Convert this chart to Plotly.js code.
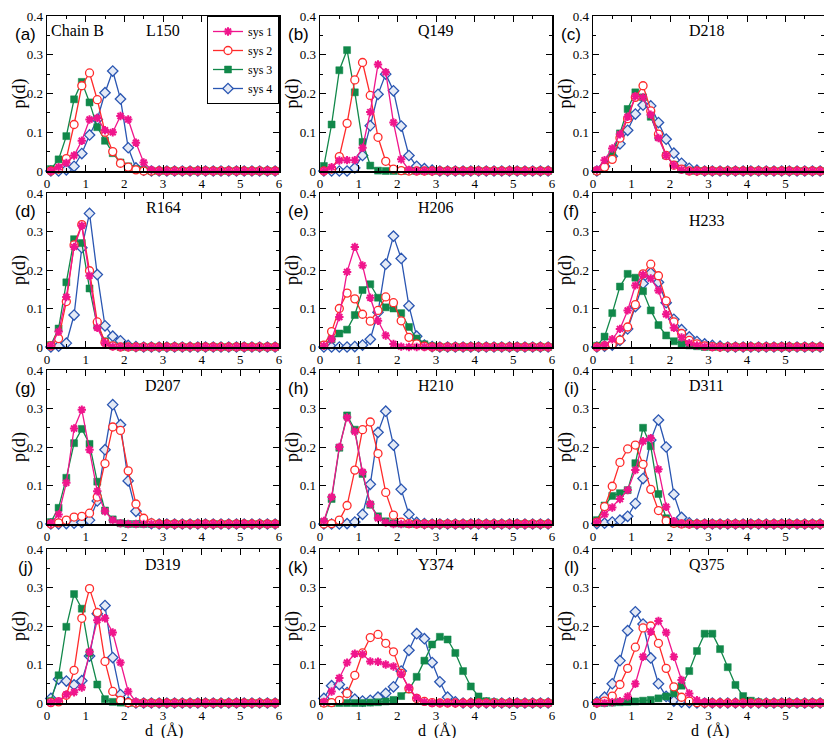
<!DOCTYPE html>
<html><head><meta charset="utf-8">
<script src="https://cdn.plot.ly/plotly-3.0.1.min.js"></script>
<style>html,body{margin:0;padding:0;background:#fff}#chart{width:824px;height:738px}</style>
</head><body><div id="chart"></div><script>
// distance bins (Å)
const dist = [0.1,0.3,0.5,0.7,0.9,1.1,1.3,1.5,1.7,1.9,2.1,2.3,2.5,2.7,2.9,3.1,3.3,3.5,3.7,3.9,4.1,4.3,4.5,4.7,4.9,5.1,5.3,5.5,5.7,5.9];

const seriesNames = ['sys 1','sys 2','sys 3','sys 4'];
const panelLabels = ['(a)','(b)','(c)','(d)','(e)','(f)','(g)','(h)','(i)','(j)','(k)','(l)'];
const residues = ['L150','Q149','D218','R164','H206','H233','D207','H210','D311','D319','Y374','Q375'];
const xTitle = 'd  (Å)';
const yTitle = 'p(d)';

// (a) L150
const L150_sys1 = [0,0.01,0.021,0.04,0.078,0.133,0.137,0.105,0.1,0.142,0.133,0.073,0.022,0.003,0,0,0,0,0,0,0,0,0,0,0,0,0,0,0,0];
const L150_sys2 = [0,0.005,0.032,0.12,0.22,0.253,0.184,0.1,0.05,0.02,0.01,0.003,0,0,0,0,0,0,0,0,0,0,0,0,0,0,0,0,0,0];
const L150_sys3 = [0.005,0.03,0.09,0.185,0.23,0.177,0.113,0.078,0.046,0.022,0.012,0.005,0.002,0,0,0,0,0,0,0,0,0,0,0,0,0,0,0,0,0];
const L150_sys4 = [0,0,0.003,0.012,0.045,0.093,0.133,0.202,0.258,0.186,0.06,0.008,0.002,0,0,0,0,0,0,0,0,0,0,0,0,0,0,0,0,0];
// (b) Q149
const Q149_sys1 = [0,0.01,0.027,0.028,0.028,0.06,0.152,0.275,0.255,0.125,0.03,0.003,0,0,0,0,0,0,0,0,0,0,0,0,0,0,0,0,0,0];
const Q149_sys2 = [0,0.005,0.037,0.123,0.235,0.28,0.195,0.087,0.025,0.005,0.001,0,0,0,0,0,0,0,0,0,0,0,0,0,0,0,0,0,0,0];
const Q149_sys3 = [0.013,0.12,0.26,0.312,0.203,0.075,0.014,0.001,0,0,0,0,0,0,0,0,0,0,0,0,0,0,0,0,0,0,0,0,0,0];
const Q149_sys4 = [0,0,0,0,0.008,0.04,0.117,0.198,0.25,0.207,0.116,0.04,0.012,0.006,0.002,0,0,0,0,0,0,0,0,0,0,0,0,0,0,0];
// (c) D218
const D218_sys1 = [0.003,0.028,0.058,0.095,0.14,0.193,0.19,0.145,0.085,0.04,0.015,0.003,0,0,0,0,0,0,0,0,0,0,0,0,0,0,0,0,0,0];
const D218_sys2 = [0,0.01,0.03,0.085,0.135,0.19,0.22,0.155,0.095,0.04,0.015,0.005,0,0,0,0,0,0,0,0,0,0,0,0,0,0,0,0,0,0];
const D218_sys3 = [0,0.012,0.042,0.097,0.16,0.203,0.19,0.14,0.088,0.04,0.016,0.004,0,0,0,0,0,0,0,0,0,0,0,0,0,0,0,0,0,0];
const D218_sys4 = [0,0.012,0.038,0.07,0.105,0.147,0.17,0.168,0.125,0.082,0.046,0.02,0.007,0.002,0,0,0,0,0,0,0,0,0,0,0,0,0,0,0,0];
// (d) R164
const R164_sys1 = [0.003,0.04,0.13,0.26,0.315,0.185,0.05,0.01,0.001,0,0,0,0,0,0,0,0,0,0,0,0,0,0,0,0,0,0,0,0,0];
const R164_sys2 = [0.003,0.022,0.118,0.265,0.318,0.198,0.065,0.012,0.003,0,0,0,0,0,0,0,0,0,0,0,0,0,0,0,0,0,0,0,0,0];
const R164_sys3 = [0.005,0.048,0.168,0.28,0.27,0.152,0.055,0.015,0.004,0,0,0,0,0,0,0,0,0,0,0,0,0,0,0,0,0,0,0,0,0];
const R164_sys4 = [0,0.002,0.01,0.083,0.258,0.347,0.188,0.055,0.028,0.016,0.004,0.001,0,0,0,0,0,0,0,0,0,0,0,0,0,0,0,0,0,0];
// (e) H206
const H206_sys1 = [0.003,0.02,0.078,0.195,0.26,0.212,0.128,0.068,0.03,0.008,0.001,0,0,0,0,0,0,0,0,0,0,0,0,0,0,0,0,0,0,0];
const H206_sys2 = [0.005,0.04,0.1,0.14,0.125,0.085,0.067,0.095,0.13,0.115,0.068,0.025,0.008,0.002,0,0,0,0,0,0,0,0,0,0,0,0,0,0,0,0];
const H206_sys3 = [0.005,0.02,0.035,0.045,0.083,0.148,0.163,0.128,0.103,0.1,0.088,0.052,0.022,0.007,0.002,0,0,0,0,0,0,0,0,0,0,0,0,0,0,0];
const H206_sys4 = [0,0,0,0,0.001,0.005,0.02,0.09,0.215,0.288,0.23,0.107,0.028,0.005,0.001,0,0,0,0,0,0,0,0,0,0,0,0,0,0,0];
// (f) H233
const H233_sys1 = [0,0.005,0.02,0.047,0.095,0.16,0.188,0.178,0.147,0.085,0.05,0.025,0.01,0.004,0.001,0,0,0,0,0,0,0,0,0,0,0,0,0,0,0];
const H233_sys2 = [0,0.003,0.007,0.018,0.052,0.11,0.19,0.215,0.185,0.12,0.065,0.035,0.017,0.008,0.003,0.001,0,0,0,0,0,0,0,0,0,0,0,0,0,0];
const H233_sys3 = [0.003,0.027,0.088,0.157,0.19,0.18,0.145,0.095,0.057,0.03,0.015,0.008,0.004,0.002,0,0,0,0,0,0,0,0,0,0,0,0,0,0,0,0];
const H233_sys4 = [0,0.002,0.005,0.017,0.047,0.105,0.165,0.192,0.168,0.115,0.072,0.045,0.026,0.014,0.008,0.004,0.002,0,0,0,0,0,0,0,0,0,0,0,0,0];
// (g) D207
const D207_sys1 = [0.002,0.025,0.107,0.248,0.297,0.193,0.085,0.033,0.01,0.002,0,0,0,0,0,0,0,0,0,0,0,0,0,0,0,0,0,0,0,0];
const D207_sys2 = [0,0.003,0.01,0.018,0.02,0.028,0.07,0.157,0.252,0.243,0.138,0.052,0.015,0.003,0,0,0,0,0,0,0,0,0,0,0,0,0,0,0,0];
const D207_sys3 = [0.005,0.042,0.12,0.21,0.247,0.208,0.11,0.035,0.012,0.002,0,0,0,0,0,0,0,0,0,0,0,0,0,0,0,0,0,0,0,0];
const D207_sys4 = [0,0,0.001,0.002,0.004,0.01,0.06,0.193,0.31,0.258,0.112,0.033,0.008,0.001,0,0,0,0,0,0,0,0,0,0,0,0,0,0,0,0];
// (h) H210
const H210_sys1 = [0.008,0.07,0.2,0.277,0.24,0.135,0.052,0.015,0.004,0,0,0,0,0,0,0,0,0,0,0,0,0,0,0,0,0,0,0,0,0];
const H210_sys2 = [0,0.001,0.01,0.048,0.14,0.245,0.265,0.183,0.082,0.023,0.005,0.001,0,0,0,0,0,0,0,0,0,0,0,0,0,0,0,0,0,0];
const H210_sys3 = [0.005,0.065,0.198,0.282,0.245,0.13,0.05,0.02,0.007,0.002,0.001,0,0,0,0,0,0,0,0,0,0,0,0,0,0,0,0,0,0,0];
const H210_sys4 = [0,0,0,0.001,0.005,0.025,0.103,0.238,0.293,0.205,0.09,0.025,0.004,0.001,0,0,0,0,0,0,0,0,0,0,0,0,0,0,0,0];
// (i) D311
const D311_sys1 = [0.005,0.025,0.043,0.065,0.088,0.14,0.215,0.223,0.142,0.045,0.007,0.001,0,0,0,0,0,0,0,0,0,0,0,0,0,0,0,0,0,0];
const D311_sys2 = [0.005,0.045,0.098,0.16,0.195,0.205,0.155,0.09,0.035,0.008,0.002,0,0,0,0,0,0,0,0,0,0,0,0,0,0,0,0,0,0,0];
const D311_sys3 = [0.01,0.048,0.073,0.08,0.088,0.158,0.25,0.202,0.078,0.015,0.002,0,0,0,0,0,0,0,0,0,0,0,0,0,0,0,0,0,0,0];
const D311_sys4 = [0.001,0.002,0.005,0.01,0.02,0.053,0.118,0.218,0.27,0.2,0.077,0.017,0.003,0,0,0,0,0,0,0,0,0,0,0,0,0,0,0,0,0];
// (j) D319
const D319_sys1 = [0.001,0.005,0.022,0.028,0.04,0.133,0.215,0.22,0.183,0.105,0.03,0.003,0,0,0,0,0,0,0,0,0,0,0,0,0,0,0,0,0,0];
const D319_sys2 = [0.001,0.003,0.02,0.085,0.22,0.297,0.235,0.108,0.03,0.007,0.001,0,0,0,0,0,0,0,0,0,0,0,0,0,0,0,0,0,0,0];
const D319_sys3 = [0.005,0.072,0.198,0.283,0.245,0.13,0.048,0.01,0.003,0.001,0,0,0,0,0,0,0,0,0,0,0,0,0,0,0,0,0,0,0,0];
const D319_sys4 = [0.012,0.062,0.057,0.047,0.058,0.122,0.232,0.253,0.118,0.022,0.002,0,0,0,0,0,0,0,0,0,0,0,0,0,0,0,0,0,0,0];
// (k) Y374
const Y374_sys1 = [0.003,0.03,0.065,0.105,0.128,0.127,0.108,0.107,0.1,0.095,0.075,0.04,0.013,0.003,0,0,0,0,0,0,0,0,0,0,0,0,0,0,0,0];
const Y374_sys2 = [0,0.001,0.007,0.025,0.072,0.13,0.17,0.178,0.155,0.133,0.077,0.037,0.012,0.004,0.001,0,0,0,0,0,0,0,0,0,0,0,0,0,0,0];
const Y374_sys3 = [0,0,0,0,0,0,0.001,0.002,0.004,0.008,0.018,0.035,0.068,0.11,0.152,0.172,0.165,0.13,0.083,0.043,0.017,0.005,0.002,0,0,0,0,0,0,0];
const Y374_sys4 = [0.012,0.045,0.048,0.027,0.01,0.005,0.007,0.015,0.025,0.042,0.083,0.137,0.18,0.167,0.105,0.055,0.015,0.003,0,0,0,0,0,0,0,0,0,0,0,0];
// (l) Q375
const Q375_sys1 = [0,0,0.002,0.005,0.017,0.05,0.12,0.185,0.213,0.183,0.12,0.06,0.025,0.007,0.002,0,0,0,0,0,0,0,0,0,0,0,0,0,0,0];
const Q375_sys2 = [0,0.005,0.018,0.048,0.09,0.145,0.195,0.2,0.155,0.09,0.042,0.015,0.005,0.001,0,0,0,0,0,0,0,0,0,0,0,0,0,0,0,0];
const Q375_sys3 = [0,0,0.001,0.002,0.003,0.004,0.006,0.008,0.012,0.017,0.025,0.045,0.083,0.135,0.18,0.18,0.14,0.093,0.047,0.018,0.006,0.002,0,0,0,0,0,0,0,0];
const Q375_sys4 = [0.002,0.015,0.05,0.11,0.188,0.237,0.205,0.117,0.05,0.017,0.005,0.002,0.001,0,0,0,0,0,0,0,0,0,0,0,0,0,0,0,0,0];

const panelData = [
  [L150_sys1,L150_sys2,L150_sys3,L150_sys4],
  [Q149_sys1,Q149_sys2,Q149_sys3,Q149_sys4],
  [D218_sys1,D218_sys2,D218_sys3,D218_sys4],
  [R164_sys1,R164_sys2,R164_sys3,R164_sys4],
  [H206_sys1,H206_sys2,H206_sys3,H206_sys4],
  [H233_sys1,H233_sys2,H233_sys3,H233_sys4],
  [D207_sys1,D207_sys2,D207_sys3,D207_sys4],
  [H210_sys1,H210_sys2,H210_sys3,H210_sys4],
  [D311_sys1,D311_sys2,D311_sys3,D311_sys4],
  [D319_sys1,D319_sys2,D319_sys3,D319_sys4],
  [Y374_sys1,Y374_sys2,Y374_sys3,Y374_sys4],
  [Q375_sys1,Q375_sys2,Q375_sys3,Q375_sys4]
];

// styles
const styles = [
  {color:'#f0158c', symbol:'asterisk-open', size:7, fill:'#f0158c', lw:2},
  {color:'#ff2b2b', symbol:'circle', size:8, fill:'#ffffff', lw:1.3},
  {color:'#11884a', symbol:'square', size:7, fill:'#11884a', lw:0.5},
  {color:'#2a56b2', symbol:'diamond', size:8, fill:'#e4eaf6', lw:1.3}
];

const W = 824, H = 738;
const colPx = [[47,279],[320,552],[593,824]];
const rowPx = [[16,171],[193,347],[370,524],[549,703]];
const SERIF = '"Liberation Serif", "Times New Roman", serif';
const SANS = '"Liberation Sans", Arial, sans-serif';

const traces = [];
const layout = {
  width: W, height: H,
  margin: {l:0, r:0, t:0, b:0},
  paper_bgcolor: '#ffffff', plot_bgcolor: '#ffffff',
  showlegend: true,
  legend: {x: 279/W, y: 1-16/H, xanchor:'right', yanchor:'top',
           bgcolor:'#ffffff', bordercolor:'#000000', borderwidth:1,
           font:{family:SERIF, size:12, color:'#000'}, tracegroupgap:0, itemwidth:30,
           traceorder:'normal'},
  annotations: []
};

for (let i = 0; i < 12; i++) {
  const r = Math.floor(i/3), c = i % 3;
  const xa = i === 0 ? 'xaxis' : 'xaxis' + (i+1);
  const ya = i === 0 ? 'yaxis' : 'yaxis' + (i+1);
  const xr = i === 0 ? 'x' : 'x' + (i+1);
  const yr = i === 0 ? 'y' : 'y' + (i+1);
  const x0 = colPx[c][0]/W, x1 = colPx[c][1]/W;
  const y0 = 1 - rowPx[r][1]/H, y1 = 1 - rowPx[r][0]/H;

  layout[xa] = {
    domain:[x0,x1], anchor: yr, range:[0,6], dtick:1, tick0:0,
    showline:true, linecolor:'#000', linewidth:1.5, mirror:'ticks',
    ticks:'inside', ticklen:6, tickwidth:1, tickcolor:'#000',
    minor:{dtick:0.5, ticks:'inside', ticklen:3, tickcolor:'#000', showgrid:false},
    showgrid:false, zeroline:false, ticklabelstandoff:0,
    tickfont:{family:SERIF, size:13, color:'#000'}
  };
  layout[ya] = {
    domain:[y0,y1], anchor: xr, range:[0,0.4], dtick:0.1, tick0:0,
    showline:true, linecolor:'#000', linewidth:1.5, mirror:'ticks',
    ticks:'inside', ticklen:6, tickwidth:1, tickcolor:'#000',
    minor:{dtick:0.05, ticks:'inside', ticklen:3, tickcolor:'#000', showgrid:false},
    showgrid:false, zeroline:true, zerolinecolor:'#000', zerolinewidth:2.5,
    tickfont:{family:SERIF, size:13, color:'#000'}
  };

  // draw order: sys 4, sys 3, sys 2, sys 1 (sys 1 on top)
  for (let s = 3; s >= 0; s--) {
    const st = styles[s];
    traces.push({
      type:'scatter', mode:'lines+markers',
      x: dist, y: panelData[i][s],
      xaxis: xr, yaxis: yr,
      name: seriesNames[s],
      legendrank: s+1,
      showlegend: i === 0,
      cliponaxis: false,
      line:{color:st.color, width:1.3},
      marker:{symbol:st.symbol, size:st.size, color:st.fill,
              line:{color:st.color, width:st.lw}}
    });
  }

  // panel label
  layout.annotations.push({
    xref:'paper', yref:'paper', x:(colPx[c][0]-22)/W, y:1-(rowPx[r][0]+18)/H,
    text: panelLabels[i], showarrow:false, xanchor:'center', yanchor:'middle',
    font:{family:SANS, size:17, color:'#000'}
  });
  // residue label
  layout.annotations.push({
    xref:'paper', yref:'paper', x:((colPx[c][0]+colPx[c][1])/2 + (c===2?-2:0))/W, y:1-(rowPx[r][0]+ (i===5?27:15))/H,
    text: residues[i], showarrow:false, xanchor:'center', yanchor:'middle',
    font:{family:SERIF, size:16, color:'#000'}
  });
  // y-axis title
  layout.annotations.push({
    xref:'paper', yref:'paper', x:(colPx[c][0]-28)/W, y:1-((rowPx[r][0]+rowPx[r][1])/2)/H,
    text: yTitle, textangle:-90, showarrow:false, xanchor:'center', yanchor:'middle',
    font:{family:SERIF, size:18, color:'#000'}
  });
  // x-axis title (bottom row)
  if (r === 3) {
    layout.annotations.push({
      xref:'paper', yref:'paper', x:((colPx[c][0]+colPx[c][1])/2 + 1)/W, y:1-731/H,
      text: xTitle, showarrow:false, xanchor:'center', yanchor:'middle',
      font:{family:SERIF, size:16, color:'#000'}
    });
  }
}
layout.annotations.push({
  xref:'paper', yref:'paper', x:77/W, y:1-31/H,
  text:'Chain B', showarrow:false, xanchor:'center', yanchor:'middle',
  font:{family:SERIF, size:16, color:'#000'}
});

Plotly.newPlot('chart', traces, layout, {displayModeBar:false, staticPlot:true});
</script></body></html>
